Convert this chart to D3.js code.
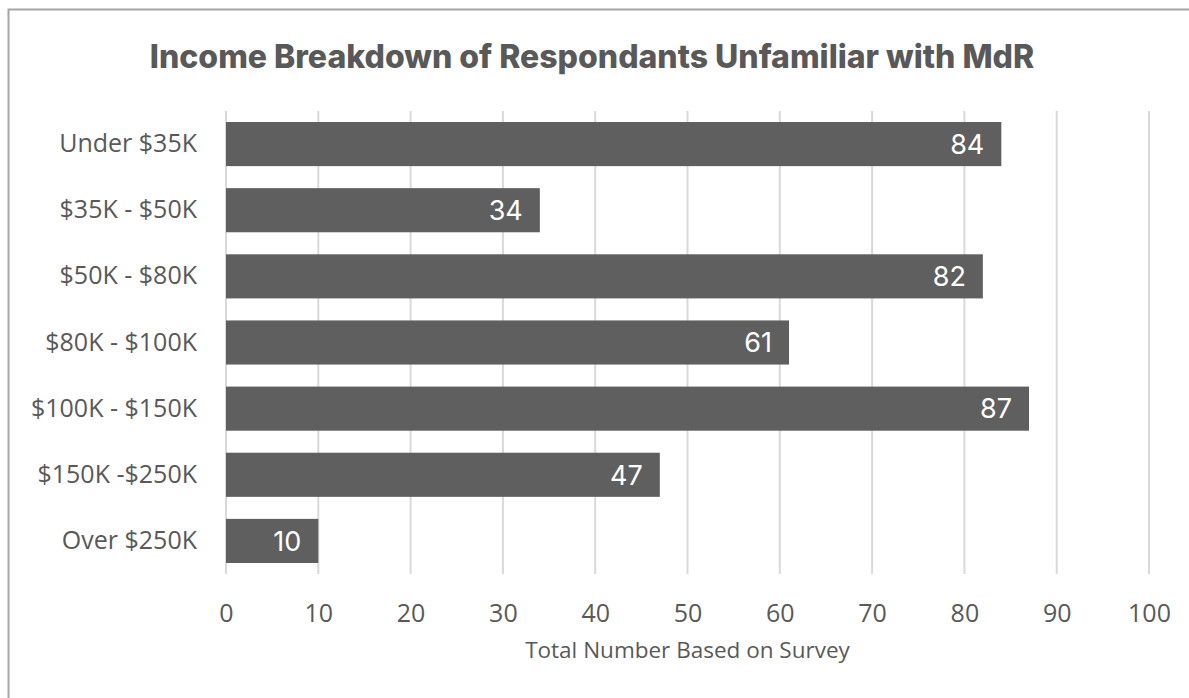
<!DOCTYPE html>
<html>
<head>
<meta charset="utf-8">
<script src="https://cdn.jsdelivr.net/npm/d3@7"></script>
<style>
  html, body { margin: 0; padding: 0; background: #ffffff; }
  svg { display: block; }
</style>
</head>
<body>
<svg id="chart" width="1189" height="698"></svg>
<script>
// Income brackets and respondent counts
const categories = ["Under $35K", "$35K - $50K", "$50K - $80K", "$80K - $100K", "$100K - $150K", "$150K -$250K", "Over $250K "];
const counts = [84, 34, 82, 61, 87, 47, 10];
const xTicks = [0, 10, 20, 30, 40, 50, 60, 70, 80, 90, 100];
const chartTitle = "Income Breakdown of Respondants Unfamiliar with MdR";
const xAxisTitle = "Total Number Based on Survey";

const svg = d3.select("#chart");
const W = 1189, H = 698;
const margin = { left: 226, top: 111 };
const plotBottom = 574;
const textColor = "#595959";
const barColor = "#5f5f5f";
const gridColor = "#d9d9d9";

// outer frame (only top and left edges fall inside the view)
svg.append("rect")
  .attr("x", 8.5).attr("y", 9.5)
  .attr("width", W + 20).attr("height", H + 20)
  .attr("fill", "none").attr("stroke", "#a6a6a6").attr("stroke-width", 2);

const x = d3.scaleLinear().domain([0, 100]).range([margin.left, 1149]);
const y = d3.scaleBand().domain(categories).range([margin.top, plotBottom]).paddingInner(0.333).paddingOuter(0.1665);

// vertical gridlines
svg.append("g").selectAll("line").data(xTicks).join("line")
  .attr("x1", d => x(d)).attr("x2", d => x(d))
  .attr("y1", margin.top).attr("y2", plotBottom)
  .attr("stroke", gridColor).attr("stroke-width", 2);

// bars
svg.append("g").selectAll("rect").data(categories).join("rect")
  .attr("x", x(0))
  .attr("y", d => y(d))
  .attr("width", (d, i) => x(counts[i]) - x(0))
  .attr("height", y.bandwidth())
  .attr("fill", barColor);

// value labels inside bar ends
svg.append("g").selectAll("text").data(categories).join("text")
  .attr("x", (d, i) => x(counts[i]) - 17)
  .attr("y", d => y(d) + y.bandwidth() / 2)
  .attr("dy", "0.36em")
  .attr("text-anchor", "end")
  .attr("font-family", "Inter, 'Open Sans', sans-serif")
  .attr("font-size", 27)
  .attr("fill", "#ffffff")
  .text((d, i) => counts[i]);

// category axis labels
const yAxis = d3.axisLeft(y).tickSize(0).tickPadding(29);
const gy = svg.append("g").attr("transform", `translate(${margin.left},0)`).call(yAxis);
gy.select(".domain").remove();
gy.selectAll("text")
  .attr("font-family", "'Open Sans', sans-serif")
  .attr("font-size", 25)
  .attr("fill", textColor);

// value axis labels
const xAxis = d3.axisBottom(x).tickValues(xTicks).tickSize(0).tickPadding(30);
const gx = svg.append("g").attr("transform", `translate(0,${plotBottom})`).call(xAxis);
gx.select(".domain").remove();
gx.selectAll("text")
  .attr("font-family", "'Open Sans', sans-serif")
  .attr("font-size", 25)
  .attr("fill", textColor);

// axis title
svg.append("text")
  .attr("x", (x(0) + x(100)) / 2)
  .attr("y", 658)
  .attr("text-anchor", "middle")
  .attr("font-family", "'Open Sans', sans-serif")
  .attr("font-size", 22.5)
  .attr("fill", textColor)
  .text(xAxisTitle);

// chart title
svg.append("text")
  .attr("x", 592)
  .attr("y", 68)
  .attr("text-anchor", "middle")
  .attr("font-family", "Inter, 'Open Sans', sans-serif")
  .attr("font-weight", 800)
  .attr("font-size", 32)
  .attr("fill", textColor)
  .text(chartTitle);
</script>
</body>
</html>
